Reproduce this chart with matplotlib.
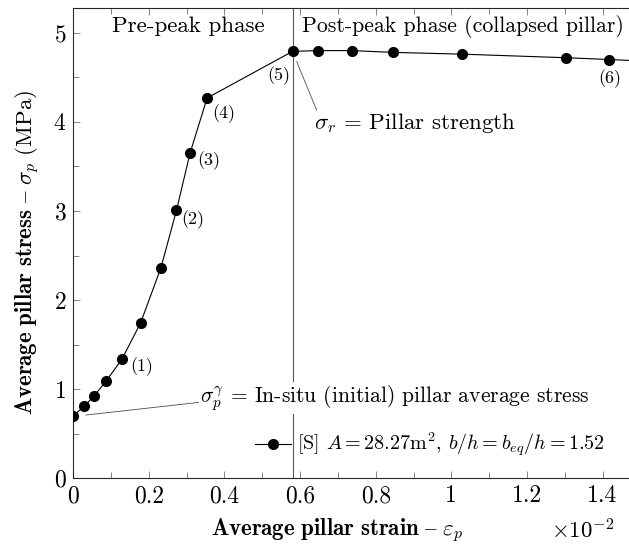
import numpy as np
import matplotlib
matplotlib.use("Agg")
import matplotlib.pyplot as plt

# strain (x 10^-2) and average pillar stress (MPa)
strain = [0.0, 0.029, 0.054, 0.0865, 0.129, 0.178, 0.232, 0.273, 0.309, 0.354,
          0.580, 0.648, 0.736, 0.846, 1.029, 1.303, 1.418, 1.52]
stress = [0.703, 0.808, 0.920, 1.089, 1.339, 1.743, 2.364, 3.008, 3.651, 4.268,
          4.791, 4.80, 4.80, 4.78, 4.76, 4.72, 4.70, 4.68]

# labelled stages: index into the data, label, offset in points
stage_idx = [4, 7, 8, 9, 10, 16]
stage_lbl = ["(1)", "(2)", "(3)", "(4)", "(5)", "(6)"]
stage_off = [(14, -5.5), (12, -7), (13.7, -5.5), (11.7, -11), (-9.6, -17.3), (0.5, -13.7)]

peak_strain = 0.58
legend_lbl = r"[S] $A = 28.27\mathrm{m}^2$, $b/h = b_{eq}/h = 1.52$"

plt.rcParams.update({
    'font.family': ['cmr10', 'DejaVu Serif'],
    'mathtext.fontset': 'cm',
    'axes.formatter.use_mathtext': True,
    'font.size': 16,
})

fig = plt.figure(figsize=(6.29, 5.48), dpi=100)
ax = fig.add_axes([0.1165, 0.1272, 1 - 0.1165, 0.9849 - 0.1272])

ax.axvline(peak_strain, color='0.35', lw=0.8, zorder=1)

ax.plot(strain, stress, '-o', color='black', lw=0.8, ms=7, label=legend_lbl, zorder=3)

for i, lbl, off in zip(stage_idx, stage_lbl, stage_off):
    ax.annotate(lbl, xy=(strain[i], stress[i]), xytext=off, textcoords='offset points',
                ha='center', va='center', fontsize=13)

ax.text(0.303, 5.07, "Pre-peak phase", ha='center', va='center', fontsize=16.6)
ax.text(1.031, 5.07, "Post-peak phase (collapsed pillar)", ha='center', va='center', fontsize=15.7)

# pillar strength note
ax.plot([0.591, 0.644], [4.676, 4.13], color='0.3', lw=0.6)
ax.text(0.636, 3.99, r"$\sigma_r$ = Pillar strength", ha='left', va='center', fontsize=16.5)

# in-situ stress note
ax.plot([0.0336, 0.335], [0.710, 0.853], color='0.3', lw=0.6)
ax.text(0.335, 0.90, r"$\sigma_p^\gamma$ = In-situ (initial) pillar average stress",
        ha='left', va='center', fontsize=15.5, zorder=4,
        bbox=dict(facecolor='white', edgecolor='none', pad=1))

ax.set_xlim(0, 1.47)
ax.set_ylim(0, 5.275)
ax.set_xticks(np.arange(0, 1.41, 0.2))
ax.set_xticklabels(["0", "0.2", "0.4", "0.6", "0.8", "1", "1.2", "1.4"])
ax.set_xticks(np.arange(0.1, 1.47, 0.2), minor=True)
ax.set_yticks([0, 1, 2, 3, 4, 5])
ax.set_yticks([0.5, 1.5, 2.5, 3.5, 4.5], minor=True)

ax.tick_params(which='both', direction='in', top=True, right=False, color='0.45', width=0.6)
ax.tick_params(which='major', length=5, labelsize=17, pad=5)
ax.tick_params(which='minor', length=4)
ax.spines['right'].set_visible(False)
for s in ['left', 'bottom', 'top']:
    ax.spines[s].set_linewidth(0.8)
    ax.spines[s].set_color('0.15')

ax.set_xlabel(r"$\mathbf{Average\ pillar\ strain}\ –\ \varepsilon_p$", fontsize=16.5, labelpad=7)
ax.set_ylabel(r"$\mathbf{Average\ pillar\ stress}\ –\ \sigma_p\ \mathrm{(MPa)}$", fontsize=16.5, labelpad=8)
ax.xaxis.label.set_x(0.475)
ax.yaxis.label.set_y(0.48)

fig.text(0.927, 0.033, r"$\times10^{-2}$", ha='center', va='center', fontsize=16.5)

ax.legend(loc='center left', bbox_to_anchor=(0.327, 0.071), frameon=False,
          fontsize=14.5, handlelength=1.8, handletextpad=0.3, borderpad=0, borderaxespad=0,
          numpoints=1)

plt.savefig("out.png", dpi=100)
